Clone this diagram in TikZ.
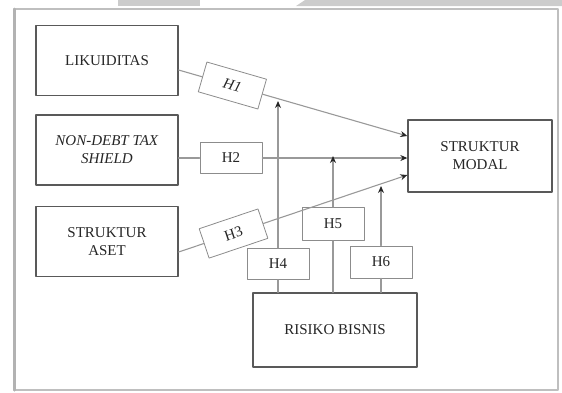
\documentclass[tikz,border=0pt]{standalone}
\usepackage{fontspec}
\setmainfont{Liberation Serif}
\usetikzlibrary{arrows.meta}

\begin{document}
\begin{tikzpicture}[x=1pt,y=-1pt,>={Stealth[length=7pt,width=6pt,black!85]},line cap=round,line join=round,
  var/.style={draw=black!65,line width=1.3pt,fill=white,minimum width=142pt,minimum height=70pt,
    align=center,inner sep=0pt,font=\fontsize{15}{18}\selectfont,text=black!85},
  hyp/.style={draw=black!45,line width=.8pt,fill=white,minimum width=62pt,minimum height=31pt,
    inner sep=0pt,font=\fontsize{15}{18}\selectfont,text=black!85},
  link/.style={draw=black!40,line width=1.1pt}]
  \useasboundingbox (0,0) rectangle (562,392);
  % page marks and frame
  \fill[gray!40] (118,0) rectangle (200,6);
  \fill[gray!40] (305,0) -- (562,0) -- (562,6) -- (296,6) -- cycle;
  \draw[gray!50,line width=1.5pt] (14,9) rectangle (558,390);
  \draw[gray!60,line width=3pt] (14,9) -- (14,390);

  \node[var] (lik) at (107,60.5) {LIKUIDITAS};
  \node[var] (ndts) at (107,150) {\textit{NON-DEBT TAX}\\\textit{SHIELD}};
  \node[var] (aset) at (107,241.5) {STRUKTUR\\ASET};
  \node[var,minimum width=144pt,minimum height=72pt] (modal) at (480,156) {STRUKTUR\\MODAL};
  \node[var,minimum width=164pt,minimum height=74pt] (risk) at (335,330) {RISIKO BISNIS};

  \coordinate (l1) at ([yshift=-9.5pt]lik.east);
  \coordinate (m1) at ([yshift=20pt]modal.west);
  \coordinate (l3) at ([yshift=-10.5pt]aset.east);
  \coordinate (m3) at ([yshift=-19pt]modal.west);

  \path (l1) -- node[hyp,sloped,pos=.235] (h1) {\textit{H1}} (m1);
  \node[hyp] (h2) at (231,158) {H2};
  \path (l3) -- node[hyp,sloped,pos=.24] (h3) {H3} (m3);
  \node[hyp] (h4) at (278,264) {H4};
  \node[hyp,minimum height=33pt] (h5) at (333,224) {H5};
  \node[hyp,minimum height=32pt] (h6) at (381,262) {H6};

  \draw[link] (l1) -- (h1);
  \draw[link,->] (h1) -- (m1);
  \draw[link] (ndts.east |- h2) -- (h2);
  \draw[link,->] (h2) -- (h2 -| modal.west);
  \draw[link] (l3) -- (h3);
  \draw[link,->] (h3) -- (m3);

  % moderating effects
  \coordinate (e4) at (278,101);
  \coordinate (e5) at (333,156);
  \coordinate (e6) at (381,186);
  \draw[link] (h4 |- risk.north) -- (h4);
  \draw[link,->] (h4) -- (e4);
  \draw[link] (h5 |- risk.north) -- (h5);
  \draw[link,->] (h5) -- (e5);
  \draw[link] (h6 |- risk.north) -- (h6);
  \draw[link,->] (h6) -- (e6);
\end{tikzpicture}
\end{document}
